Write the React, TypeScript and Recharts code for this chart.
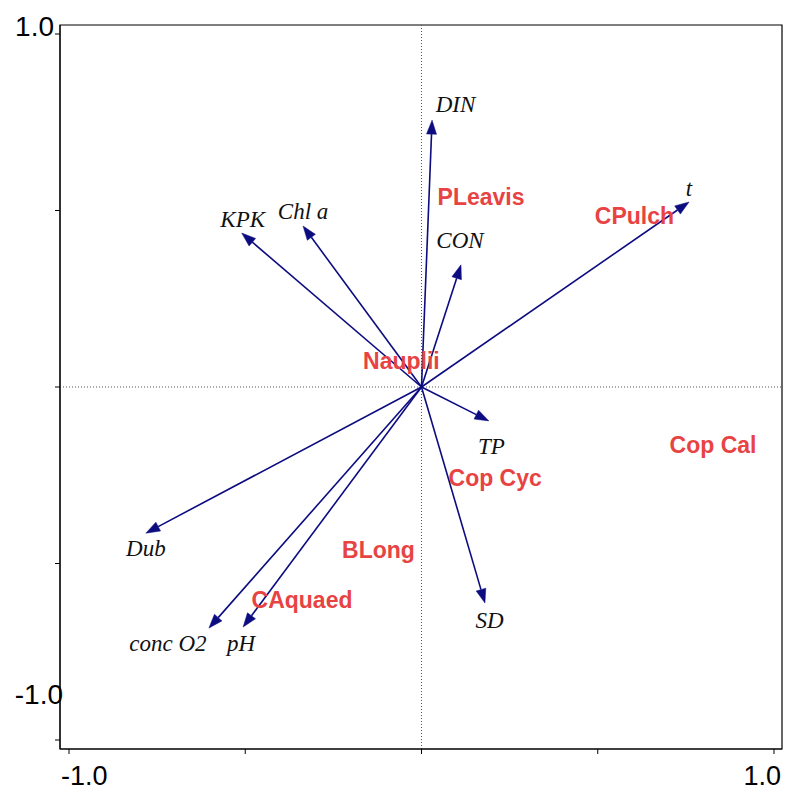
import React from 'react';
import {
  ScatterChart,
  Scatter,
  XAxis,
  YAxis,
  ReferenceLine,
  ReferenceArea,
} from 'recharts';

// environmental variables (arrows)
const envNames = ['DIN', 't', 'KPK', 'Chl a', 'CON', 'TP', 'SD', 'Dub', 'conc O2', 'pH'];
const envX = [0.03, 0.759, -0.51, -0.336, 0.112, 0.191, 0.18, -0.782, -0.603, -0.506];
const envY = [0.756, 0.524, 0.436, 0.456, 0.346, -0.096, -0.612, -0.414, -0.683, -0.68];

// species (labels only)
const speciesNames = ['PLeavis', 'CPulch', 'Nauplii', 'Cop Cal', 'Cop Cyc', 'BLong', 'CAquaed'];
const speciesX = [0.169, 0.604, -0.057, 0.827, 0.209, -0.122, -0.339];
const speciesY = [0.538, 0.484, 0.074, -0.164, -0.258, -0.462, -0.603];

// axis ticks
const axisTicks = [-1, -0.5, 0, 0.5, 1];
const labelledTicks = [-1, 1];

const xDomain: [number, number] = [-1.0255, 1.0227];
const yDomain: [number, number] = [-1.0255, 1.0255];

// label placement relative to arrow tip (px): [dx to text centre, dy to baseline]
const envLabelOffset: Record<string, [number, number]> = {
  DIN: [23.5, -8],
  t: [0, -6],
  KPK: [1, -6],
  'Chl a': [0, -7],
  CON: [-1, -17],
  TP: [2.5, 33],
  SD: [4.5, 25],
  Dub: [0, 23],
  'conc O2': [-41, 23],
  pH: [-2, 24],
};

const ARROW = '#0c0c80';
const RED = '#e84343';

const speciesData = speciesNames.map((name, i) => ({ name, x: speciesX[i], y: speciesY[i] }));
const envData = envNames.map((name, i) => ({ name, x: envX[i], y: envY[i] }));

const arrowShape = (name: string) => (p: any) => {
  const { x1, y1, x2, y2 } = p;
  const ang = Math.atan2(y2 - y1, x2 - x1);
  const len = 14;
  const half = 5;
  const bx = x2 - len * Math.cos(ang);
  const by = y2 - len * Math.sin(ang);
  const px = -Math.sin(ang) * half;
  const py = Math.cos(ang) * half;
  const [dx, dy] = envLabelOffset[name] || [0, 0];
  return (
    <g>
      <line x1={x1} y1={y1} x2={bx} y2={by} stroke={ARROW} strokeWidth={1.6} />
      <polygon
        points={`${x2},${y2} ${bx + px},${by + py} ${bx - px},${by - py}`}
        fill={ARROW}
        stroke={ARROW}
        strokeWidth={0.5}
      />
      <text
        x={x2 + dx}
        y={y2 + dy}
        textAnchor="middle"
        fontFamily="'Liberation Serif', 'DejaVu Serif', serif"
        fontStyle="italic"
        fontSize={23}
        fill="#111"
      >
        {name}
      </text>
    </g>
  );
};

const SpeciesLabel = (p: any) => (
  <text
    x={p.cx}
    y={p.cy}
    dy={8}
    textAnchor="middle"
    fontFamily="'Liberation Sans', Arial, sans-serif"
    fontWeight="bold"
    fontSize={23}
    fill={RED}
  >
    {p.payload.name}
  </text>
);

const tickFont = "'Liberation Sans', Arial, sans-serif";

const YTick = (p: any) => {
  const v = p.payload.value;
  if (!labelledTicks.includes(v)) return <g />;
  const top = v > 0;
  return (
    <text
      x={top ? 54 : 63}
      y={top ? p.y + 2 : p.y - 36}
      textAnchor="end"
      fontFamily={tickFont}
      fontSize={28}
      fill="#000"
    >
      {v.toFixed(1)}
    </text>
  );
};

const XTick = (p: any) => {
  const v = p.payload.value;
  if (!labelledTicks.includes(v)) return <g />;
  const left = v < 0;
  return (
    <text
      x={left ? p.x - 8 : p.x + 7}
      y={785}
      textAnchor={left ? 'start' : 'end'}
      fontFamily={tickFont}
      fontSize={27}
      fill="#000"
    >
      {v.toFixed(1)}
    </text>
  );
};

export default function App() {
  return (
    <div style={{ position: 'absolute', left: 0, top: 0, background: '#fff' }}>
      <ScatterChart width={785} height={792} margin={{ top: 25, right: 3, bottom: 42, left: 59 }}>
        <XAxis
          type="number"
          dataKey="x"
          domain={xDomain}
          ticks={axisTicks}
          allowDataOverflow
          height={1}
          tickSize={5}
          stroke="#000"
          tick={XTick}
          interval={0}
        />
        <YAxis
          type="number"
          dataKey="y"
          domain={yDomain}
          ticks={axisTicks}
          allowDataOverflow
          width={1}
          tickSize={5}
          stroke="#000"
          tick={YTick}
          interval={0}
        />
        <ReferenceArea
          x1={xDomain[0]}
          x2={xDomain[1]}
          y1={yDomain[0]}
          y2={yDomain[1]}
          fill="none"
          stroke="#000"
          strokeWidth={1.2}
          ifOverflow="visible"
        />
        <ReferenceLine x={0} stroke="#555" strokeDasharray="1 2" />
        <ReferenceLine y={0} stroke="#555" strokeDasharray="1 2" />
        <Scatter data={speciesData} shape={SpeciesLabel} isAnimationActive={false} />
        {envData.map((d) => (
          <ReferenceLine
            key={d.name}
            segment={[
              { x: 0, y: 0 },
              { x: d.x, y: d.y },
            ]}
            ifOverflow="visible"
            shape={arrowShape(d.name)}
          />
        ))}
      </ScatterChart>
    </div>
  );
}
